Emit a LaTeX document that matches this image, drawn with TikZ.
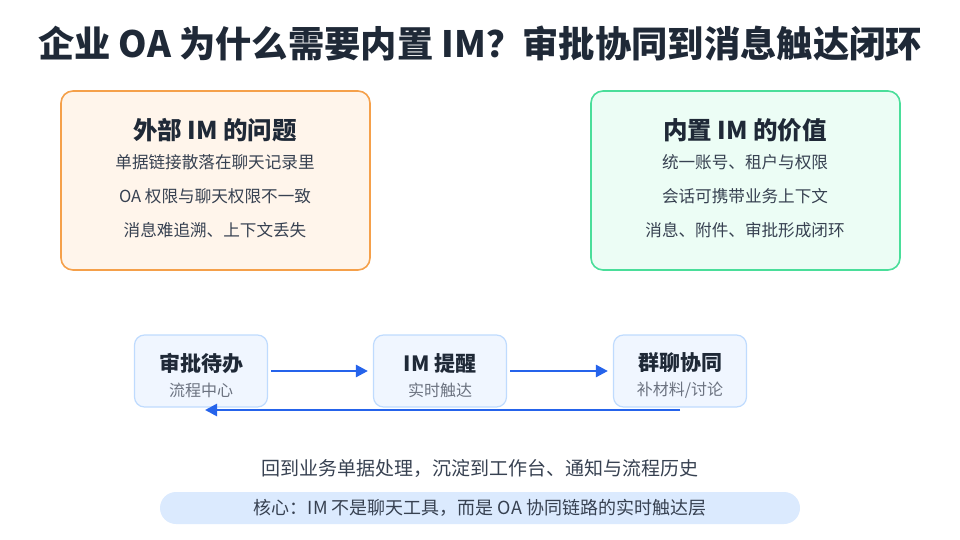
\documentclass[tikz,border=0pt]{standalone}
\usepackage{fontspec}
\setmainfont{Noto Sans CJK SC}
\usetikzlibrary{positioning, arrows.meta}
\definecolor{ink}{HTML}{1F2937}
\definecolor{txt}{HTML}{374151}
\definecolor{sub}{HTML}{6B7280}
\definecolor{warnfill}{HTML}{FFF5EB}
\definecolor{warnline}{HTML}{F5A04A}
\definecolor{okfill}{HTML}{ECFDF5}
\definecolor{okline}{HTML}{4ADE9A}
\definecolor{stepfill}{HTML}{F0F6FF}
\definecolor{stepline}{HTML}{BFDBFE}
\definecolor{flow}{HTML}{2563EB}
\definecolor{pill}{HTML}{DBEAFE}
\tikzset{
  card/.style={rounded corners=12pt, line width=1.6pt},
  head/.style={font=\bfseries\fontsize{24.5}{28}\selectfont, text=ink},
  stephead/.style={font=\bfseries\fontsize{21}{24}\selectfont, text=ink},
  stepsub/.style={font=\fontsize{16}{18}\selectfont, text=sub},
  item/.style={font=\fontsize{16.6}{19}\selectfont, text=txt},
  flowstep/.style={draw=stepline, fill=stepfill, rounded corners=10pt, line width=1.2pt, minimum width=133pt, minimum height=72pt},
  flowarrow/.style={draw=flow, line width=2.6pt, -{Triangle[length=12pt,width=12pt]}}
}
\begin{document}
\begin{tikzpicture}[x=1pt,y=-1pt]
    \useasboundingbox (0,0) rectangle (960,540);
    \node[font=\bfseries\fontsize{36.3}{40}\selectfont, text=ink] (title) at (480,44) {企业 OA 为什么需要内置 IM？审批协同到消息触达闭环};
    % left card
    \draw[card, draw=warnline, fill=warnfill] (61,91) rectangle (370,270);
    \node[head] (lhead) at (215,130) {外部 IM 的问题};
    \node[item] (l1) at (215,162) {单据链接散落在聊天记录里};
    \node[item] (l2) at (215,196) {OA 权限与聊天权限不一致};
    \node[item] (l3) at (215,230) {消息难追溯、上下文丢失};
    % right card
    \draw[card, draw=okline, fill=okfill] (591,91) rectangle (900,270);
    \node[head] (rhead) at (745,130) {内置 IM 的价值};
    \node[item] (r1) at (745,162) {统一账号、租户与权限};
    \node[item] (r2) at (745,196) {会话可携带业务上下文};
    \node[item] (r3) at (745,230) {消息、附件、审批形成闭环};
    % flow
    \node[flowstep] (s1) at (201,371) {};
    \node[flowstep] (s2) at (440,371) {};
    \node[flowstep] (s3) at (680,371) {};
    \node[stephead] at (201,363) {审批待办};
    \node[stepsub] at (201,390) {流程中心};
    \node[stephead] at (440,363) {IM 提醒};
    \node[stepsub] at (440,390) {实时触达};
    \node[stephead] at (680,363) {群聊协同};
    \node[stepsub] at (680,390) {补材料/讨论};
    \draw[flowarrow] ([xshift=3pt]s1.east) -- ([xshift=-5pt]s2.west);
    \draw[flowarrow] ([xshift=3pt]s2.east) -- ([xshift=-5pt]s3.west);
    \coordinate (back1) at (680,410);
    \coordinate (back2) at (205,410);
    \draw[flowarrow] (back1) -- (back2);
    \node[font=\fontsize{19}{22}\selectfont, text=txt] (note) at (480,468) {回到业务单据处理，沉淀到工作台、通知与流程历史};
    \fill[pill, rounded corners=16pt] (160,492) rectangle (800,524);
    \node[font=\fontsize{18}{21}\selectfont, text=txt] (core) at (480,508) {核心：IM 不是聊天工具，而是 OA 协同链路的实时触达层};
\end{tikzpicture}
\end{document}
